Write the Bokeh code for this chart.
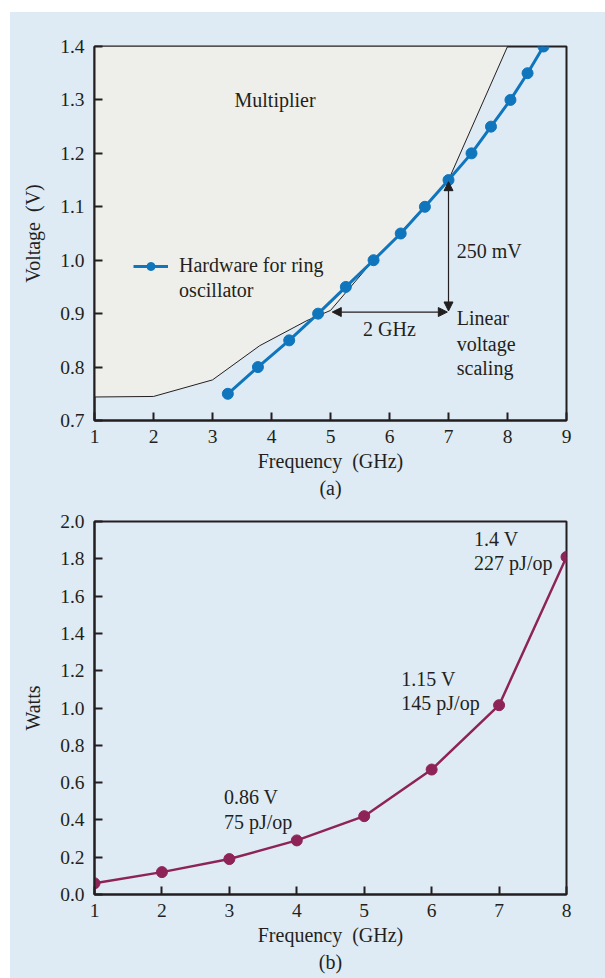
from bokeh.plotting import figure
from bokeh.layouts import column
from bokeh.models import (Range1d, Label, Arrow, NormalHead, FixedTicker,
                          Legend, LegendItem, NumeralTickFormatter, Title)
from bokeh.core.properties import value
from bokeh.embed import file_html
from bokeh.resources import INLINE

# ---------------- data: panel (a) ----------------
ring_freq = [3.26, 3.77, 4.30, 4.79, 5.26, 5.73, 6.19, 6.60, 7.00, 7.39, 7.72, 8.05, 8.34, 8.61]
ring_volt = [0.75, 0.80, 0.85, 0.90, 0.95, 1.00, 1.05, 1.10, 1.15, 1.20, 1.25, 1.30, 1.35, 1.40]
mult_freq = [1.0, 2.0, 3.0, 3.8, 4.6, 5.0, 5.72, 6.19, 6.60, 7.0, 8.0]
mult_volt = [0.744, 0.745, 0.776, 0.840, 0.887, 0.906, 0.999, 1.052, 1.102, 1.15, 1.40]
a_xticks = [1, 2, 3, 4, 5, 6, 7, 8, 9]
a_yticks = [0.7, 0.8, 0.9, 1.0, 1.1, 1.2, 1.3, 1.4]

# ---------------- data: panel (b) ----------------
pow_freq = [1, 2, 3, 4, 5, 6, 7, 8]
pow_watts = [0.06, 0.12, 0.19, 0.29, 0.42, 0.67, 1.015, 1.81]
b_xticks = [1, 2, 3, 4, 5, 6, 7, 8]
b_yticks = [0.0, 0.2, 0.4, 0.6, 0.8, 1.0, 1.2, 1.4, 1.6, 1.8, 2.0]
b_note_text = ["0.86 V", "75 pJ/op", "1.15 V", "145 pJ/op", "1.4 V", "227 pJ/op"]
b_note_x = [2.92, 2.92, 5.55, 5.55, 6.63, 6.63]
b_note_y = [0.521, 0.387, 1.155, 1.025, 1.905, 1.775]

# ---------------- styles ----------------
BG = "#DEEBF4"
FILL = "#EEEFEA"
INK = "#231F20"
BLUE = "#0F75BC"
MAROON = "#8E2358"
FONT = "Liberation Serif"
TXT = "20px"
XLABEL = "Frequency\u00a0 (GHz)"


def style(p, xticks, yticks):
    p.background_fill_color = BG
    p.border_fill_color = BG
    p.outline_line_color = INK
    p.outline_line_width = 2
    p.grid.visible = False
    p.xaxis.ticker = FixedTicker(ticks=xticks)
    p.yaxis.ticker = FixedTicker(ticks=yticks)
    p.xaxis.formatter = NumeralTickFormatter(format="0")
    p.yaxis.formatter = NumeralTickFormatter(format="0.0")
    for ax in (p.xaxis[0], p.yaxis[0]):
        ax.axis_line_color = INK
        ax.axis_line_width = 2
        ax.major_tick_in = 8
        ax.major_tick_out = 0
        ax.major_tick_line_color = INK
        ax.major_tick_line_width = 2
        ax.minor_tick_line_color = None
        ax.major_label_text_font = FONT
        ax.major_label_text_font_size = "19.5px"
        ax.major_label_text_color = INK
        ax.axis_label_text_font = FONT
        ax.axis_label_text_font_size = TXT
        ax.axis_label_text_font_style = "normal"
        ax.axis_label_text_color = INK
    p.xaxis.major_label_standoff = 9
    p.yaxis.major_label_standoff = 10
    p.xaxis.axis_label_standoff = 4
    p.yaxis.axis_label_standoff = 13
    p.xaxis.axis_label = XLABEL


def label(p, x, y, text, align="left", angle=0):
    p.add_layout(Label(x=x, y=y, text=text, text_font=FONT, text_font_size=TXT,
                       text_color=INK, text_align=align, text_baseline="middle",
                       angle=angle))


def caption(p, text):
    p.add_layout(Title(text=text, align="center", text_font=FONT, text_font_size=TXT,
                       text_font_style="normal", text_color=INK, standoff=0), "below")


# ---------------- panel (a) ----------------
p1 = figure(frame_width=472, frame_height=374, min_border_left=84, min_border_right=39,
            min_border_top=34, min_border_bottom=80,
            x_range=Range1d(1, 9), y_range=Range1d(0.7, 1.4),
            output_backend="svg", toolbar_location=None)
style(p1, a_xticks, a_yticks)
p1.yaxis.axis_label = "Voltage\u00a0 (V)"
caption(p1, "(a)")

# multiplier region: area above the boundary up to the top of the frame
p1.patch(mult_freq + [mult_freq[0]], mult_volt + [a_yticks[-1]],
         fill_color=FILL, line_color=None)
p1.line(mult_freq, mult_volt, line_color=INK, line_width=1)

r_line = p1.line(ring_freq, ring_volt, line_color=BLUE, line_width=3)
r_pts = p1.scatter(ring_freq, ring_volt, size=11, fill_color=BLUE, line_color=BLUE)

legend = Legend(items=[LegendItem(label="Hardware for ring", renderers=[r_line, r_pts])],
                location=(39, 143), background_fill_alpha=0, border_line_color=None,
                padding=0, margin=0, spacing=0, glyph_width=35, glyph_height=20,
                label_height=20, label_standoff=11, label_text_font=FONT,
                label_text_font_size=TXT, label_text_color=INK)
p1.add_layout(legend)
label(p1, 2.434, 0.944, "oscillator")

head = dict(size=9, fill_color=INK, line_color=INK)
p1.add_layout(Arrow(start=NormalHead(**head), end=NormalHead(**head),
                    x_start=5.03, y_start=0.903, x_end=6.98, y_end=0.903,
                    line_color=INK, line_width=1.2))
p1.add_layout(Arrow(start=NormalHead(**head), end=NormalHead(**head),
                    x_start=7.0, y_start=0.905, x_end=7.0, y_end=1.147,
                    line_color=INK, line_width=1.2))

label(p1, 4.06, 1.30, "Multiplier", align="center")
label(p1, 6.0, 0.872, "2 GHz", align="center")
label(p1, 7.14, 1.018, "250 mV")
label(p1, 7.14, 0.891, "Linear")
label(p1, 7.14, 0.844, "voltage")
label(p1, 7.14, 0.799, "scaling")

# ---------------- panel (b) ----------------
p2 = figure(frame_width=472, frame_height=373, min_border_left=84, min_border_right=39,
            min_border_top=21, min_border_bottom=84,
            x_range=Range1d(1, 8), y_range=Range1d(0, 2.0),
            output_backend="svg", toolbar_location=None)
style(p2, b_xticks, b_yticks)
p2.yaxis.axis_label = "Watts"
caption(p2, "(b)")

p2.line(pow_freq, pow_watts, line_color=MAROON, line_width=2.5)
p2.scatter(pow_freq, pow_watts, size=11, fill_color=MAROON, line_color=MAROON)
p2.text(x=b_note_x, y=b_note_y, text=b_note_text, text_font=value(FONT),
        text_font_size=value(TXT), text_color=INK, text_align="left",
        text_baseline="middle")

layout = column(p1, p2, margin=(12, 0, 0, 10), spacing=0)
layout.styles = {"background-color": BG}

open("out.html", "w").write(file_html(layout, INLINE))
